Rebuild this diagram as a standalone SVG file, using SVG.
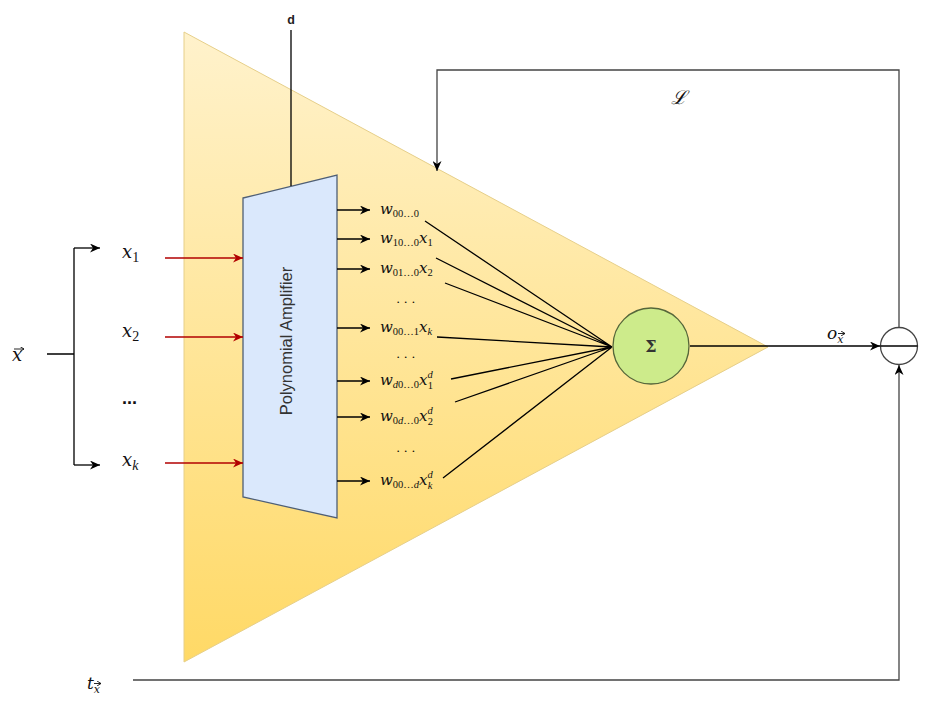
<svg xmlns="http://www.w3.org/2000/svg" width="927" height="704" viewBox="0 0 927 704">
<defs>
<linearGradient id="tri" x1="0" y1="0" x2="0" y2="1">
<stop offset="0" stop-color="#fff2cc"/>
<stop offset="1" stop-color="#ffd966"/>
</linearGradient>
<marker id="ah" markerUnits="userSpaceOnUse" markerWidth="11" markerHeight="9" refX="10" refY="4.5" orient="auto">
<path d="M0,0 L10,4.5 L0,9 L3,4.5 Z" fill="#000"/>
</marker>
<marker id="ahr" markerUnits="userSpaceOnUse" markerWidth="11" markerHeight="9" refX="10" refY="4.5" orient="auto">
<path d="M0,0 L10,4.5 L0,9 L3,4.5 Z" fill="#b20000"/>
</marker>
<marker id="vec" markerUnits="userSpaceOnUse" markerWidth="5" markerHeight="5" refX="4" refY="2.5" orient="auto">
<path d="M0,0 L4,2.5 L0,5" fill="none" stroke="#111" stroke-width="0.9"/>
</marker>
</defs>
<style>
.c{fill:none;stroke:#000;stroke-width:1.3}
.r{fill:none;stroke:#b20000;stroke-width:1.3}
.g{fill:none;stroke:#444;stroke-width:1.3}
.v{fill:none;stroke:#111;stroke-width:0.9}
.m{font-family:"DejaVu Serif","Liberation Serif",serif;font-style:italic;fill:#111}
.w{font-size:15px}
.u{font-family:"Liberation Serif","DejaVu Serif",serif;font-style:normal}
.s{font-size:10.5px}
.si{font-family:"Liberation Serif","DejaVu Serif",serif;font-style:italic}
.xs{font-size:18px}
.sans{font-family:"Liberation Sans",Arial,sans-serif}
</style>
<rect width="927" height="704" fill="#fff"/>

<g id="triangle">
<path d="M184,32 L768,347 L184,662 Z" fill="url(#tri)" stroke="#e6cf8a" stroke-width="1"/>
</g>

<g id="amplifier">
<path d="M243,198 L337,175 L337,518 L243,497 Z" fill="#dae8fc" stroke="#4f5f75" stroke-width="1.3"/>
<text class="sans" x="0" y="0" font-size="16.5" fill="#333" text-anchor="middle" transform="translate(292,341) rotate(-90)">Polynomial Amplifier</text>
</g>

<g id="sum">
<circle cx="651" cy="346" r="38" fill="#cdeb8b" stroke="#55663a" stroke-width="1.3"/>
<text x="651" y="352" font-family="'DejaVu Serif',serif" font-weight="bold" font-size="16" fill="#333" text-anchor="middle">Σ</text>
</g>

<g id="comparator">
<circle cx="899" cy="346" r="18.5" fill="#fff" stroke="#444" stroke-width="1.3"/>
<path d="M880.5,346 H917.5" stroke="#000" stroke-width="1.3"/>
</g>

<g id="connectors">
<path class="c" d="M47,354 H74 M74,248 V465"/>
<path class="c" d="M74,248 H100" marker-end="url(#ah)"/>
<path class="c" d="M74,465 H100" marker-end="url(#ah)"/>
<path class="r" d="M165,258 H243" marker-end="url(#ahr)"/>
<path class="r" d="M165,337 H243" marker-end="url(#ahr)"/>
<path class="r" d="M165,463 H243" marker-end="url(#ahr)"/>
<path class="c" d="M291,30 V186"/>
<path class="c" d="M337,210 H370" marker-end="url(#ah)"/>
<path class="c" d="M337,239 H370" marker-end="url(#ah)"/>
<path class="c" d="M337,269 H370" marker-end="url(#ah)"/>
<path class="c" d="M337,328 H370" marker-end="url(#ah)"/>
<path class="c" d="M337,381 H370" marker-end="url(#ah)"/>
<path class="c" d="M337,417 H370" marker-end="url(#ah)"/>
<path class="c" d="M337,481 H370" marker-end="url(#ah)"/>
<path class="c" d="M425,221 L612,347 M436,258 L612,347 M445,283 L612,347 M437,337 L612,347 M451,379 L612,347 M455,402 L612,347 M443,478 L612,347"/>
<path class="c" d="M690,346 H880" marker-end="url(#ah)"/>
<path class="g" d="M899,327.5 V70 H437 V171" marker-end="url(#ah)"/>
<path class="g" d="M133,680 H899 V365" marker-end="url(#ah)"/>
</g>

<g id="labels">
<text class="sans" x="291" y="24" font-size="12.5" font-weight="bold" fill="#222" text-anchor="middle">d</text>
<text class="m" x="671" y="104" font-size="19">ℒ</text>

<text class="m xs" x="12" y="361">x</text>
<path class="v" d="M14,349 H24" marker-end="url(#vec)"/>

<text class="m xs" x="122" y="258">x<tspan class="u" font-size="14" dy="4">1</tspan></text>
<text class="m xs" x="122" y="337">x<tspan class="u" font-size="14" dy="4">2</tspan></text>
<text class="sans" x="122" y="404" font-size="18" font-weight="bold" fill="#111">...</text>
<text class="m xs" x="122" y="466">x<tspan class="si" font-size="14" dy="4">k</tspan></text>

<text class="m w" x="380" y="214">w<tspan class="u s" dy="3">00…0</tspan></text>
<text class="m w" x="380" y="243">w<tspan class="u s" dy="3">10…0</tspan><tspan dy="-3">x</tspan><tspan class="u s" dy="3">1</tspan></text>
<text class="m w" x="380" y="273">w<tspan class="u s" dy="3">01…0</tspan><tspan dy="-3">x</tspan><tspan class="u s" dy="3">2</tspan></text>
<text class="u" x="396" y="306" font-size="13">· · ·</text>
<text class="m w" x="380" y="332">w<tspan class="u s" dy="3">00…1</tspan><tspan dy="-3">x</tspan><tspan class="si s" dy="3">k</tspan></text>
<text class="u" x="396" y="361" font-size="13">· · ·</text>
<text class="m w" x="380" y="385">w<tspan class="si s" dy="3">d</tspan><tspan class="u s">0…0</tspan><tspan dy="-3">x</tspan><tspan class="si s" dy="-7">d</tspan><tspan class="u s" dx="-5" dy="11">1</tspan></text>
<text class="m w" x="380" y="421">w<tspan class="u s" dy="3">0</tspan><tspan class="si s">d</tspan><tspan class="u s">…0</tspan><tspan dy="-3">x</tspan><tspan class="si s" dy="-7">d</tspan><tspan class="u s" dx="-5" dy="11">2</tspan></text>
<text class="u" x="396" y="455" font-size="13">· · ·</text>
<text class="m w" x="380" y="485">w<tspan class="u s" dy="3">00…</tspan><tspan class="si s">d</tspan><tspan dy="-3">x</tspan><tspan class="si s" dy="-7">d</tspan><tspan class="si s" dx="-5" dy="11">k</tspan></text>

<text class="m" x="827" y="339" font-size="17">o<tspan font-size="11" dy="4">x</tspan></text>
<path class="v" d="M838,333.5 H845" marker-end="url(#vec)"/>

<text class="m" x="87" y="689" font-size="17">t<tspan font-size="11" dy="4">x</tspan></text>
<path class="v" d="M94,683.5 H101" marker-end="url(#vec)"/>
</g>
</svg>
